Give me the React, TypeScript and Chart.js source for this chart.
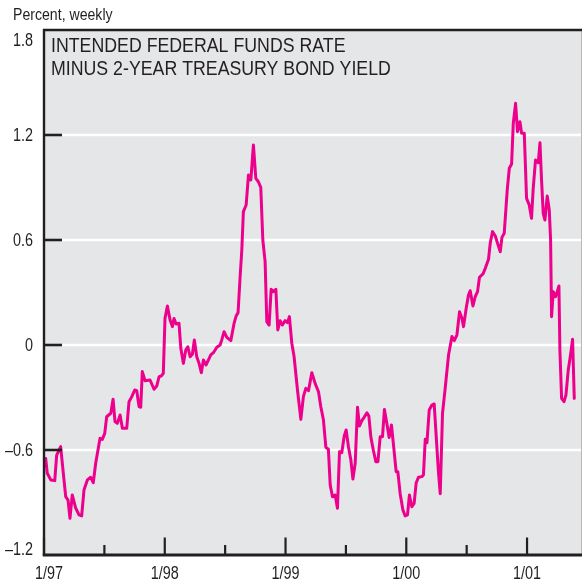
import React, { useEffect, useRef } from "react";
import { Chart, registerables } from "chart.js";

Chart.register(...registerables);

// Weekly observations: date (decimal year) and spread (percent)
const dates = [
  1997.014, 1997.027, 1997.056, 1997.089, 1997.105, 1997.138, 1997.160, 1997.180, 1997.199, 1997.215,
  1997.234, 1997.263, 1997.290, 1997.312, 1997.331, 1997.359, 1997.387, 1997.408, 1997.428, 1997.464,
  1997.483, 1997.503, 1997.519, 1997.553, 1997.572, 1997.588, 1997.607, 1997.630, 1997.649, 1997.685,
  1997.704, 1997.727, 1997.751, 1997.768, 1997.787, 1997.801, 1997.814, 1997.837, 1997.878, 1997.911,
  1997.934, 1997.953, 1997.972, 1997.988,
  1998.002, 1998.022, 1998.044, 1998.063, 1998.077, 1998.094, 1998.118, 1998.133, 1998.154, 1998.174,
  1998.191, 1998.210, 1998.229, 1998.245, 1998.265, 1998.284, 1998.303, 1998.320, 1998.342, 1998.361,
  1998.381, 1998.403, 1998.431, 1998.458, 1998.472, 1998.491, 1998.514, 1998.547, 1998.574, 1998.591,
  1998.607, 1998.624, 1998.638, 1998.651, 1998.674, 1998.693, 1998.713, 1998.734, 1998.754, 1998.775,
  1998.795, 1998.812, 1998.831, 1998.845, 1998.864, 1998.881, 1998.900, 1998.920, 1998.936, 1998.955,
  1998.974, 1998.997,
  1999.016, 1999.032, 1999.052, 1999.071, 1999.099, 1999.127, 1999.148, 1999.168, 1999.190, 1999.218,
  1999.245, 1999.273, 1999.292, 1999.314, 1999.334, 1999.355, 1999.370, 1999.389, 1999.411, 1999.430,
  1999.447, 1999.466, 1999.486, 1999.502, 1999.521, 1999.541, 1999.558, 1999.577, 1999.596, 1999.612,
  1999.632, 1999.651, 1999.674, 1999.690, 1999.707, 1999.728, 1999.748, 1999.765, 1999.784, 1999.803,
  1999.819, 1999.839, 1999.858, 1999.877, 1999.894, 1999.916, 1999.930, 1999.949, 1999.972, 1999.991,
  2000.010, 2000.026, 2000.046, 2000.065, 2000.082, 2000.101, 2000.129, 2000.142, 2000.157, 2000.171,
  2000.190, 2000.212, 2000.231, 2000.253, 2000.267, 2000.281, 2000.300, 2000.322, 2000.350, 2000.378,
  2000.397, 2000.419, 2000.441, 2000.461, 2000.474, 2000.496, 2000.515, 2000.529, 2000.552, 2000.571,
  2000.590, 2000.606, 2000.635, 2000.654, 2000.681, 2000.695, 2000.714, 2000.737, 2000.756, 2000.778,
  2000.792, 2000.811, 2000.836, 2000.853, 2000.872, 2000.886, 2000.905, 2000.921, 2000.941, 2000.955,
  2000.977, 2000.996,
  2001.018, 2001.037, 2001.051, 2001.070, 2001.093, 2001.107, 2001.120, 2001.134, 2001.148, 2001.167,
  2001.184, 2001.195, 2001.203, 2001.217, 2001.236, 2001.250, 2001.264, 2001.272, 2001.286, 2001.306,
  2001.322, 2001.341, 2001.360, 2001.377, 2001.391,
];

const spread = [
  -0.648, -0.733, -0.771, -0.775, -0.629, -0.581, -0.733, -0.867, -0.886, -0.99,
  -0.857, -0.933, -0.971, -0.977, -0.829, -0.771, -0.756, -0.787, -0.676, -0.533,
  -0.539, -0.505, -0.41, -0.39, -0.31, -0.438, -0.448, -0.4, -0.476, -0.476,
  -0.324, -0.295, -0.257, -0.261, -0.352, -0.356, -0.152, -0.204, -0.2, -0.253,
  -0.234, -0.181, -0.177, -0.162,
  0.152, 0.223, 0.143, 0.105, 0.152, 0.12, 0.124, -0.019, -0.105, -0.029,
  -0.01, -0.067, -0.051, 0.029, -0.067, -0.105, -0.158, -0.086, -0.114, -0.086,
  -0.057, -0.044, -0.013, 0, 0.029, 0.076, 0.044, 0.025, 0.124, 0.166,
  0.185, 0.39, 0.543, 0.762, 0.8, 0.971, 0.943, 1.143, 0.952, 0.933,
  0.901, 0.6, 0.476, 0.133, 0.114, 0.318, 0.305, 0.318, 0.086, 0.139,
  0.114, 0.139,
  0.128, 0.162, 0.01, -0.067, -0.257, -0.425, -0.295, -0.248, -0.261, -0.158,
  -0.219, -0.267, -0.352, -0.429, -0.585, -0.596, -0.8, -0.867, -0.857, -0.933,
  -0.61, -0.615, -0.52, -0.486, -0.581, -0.657, -0.766, -0.676, -0.356, -0.463,
  -0.432, -0.413, -0.387, -0.406, -0.528, -0.604, -0.667, -0.667, -0.524, -0.524,
  -0.368, -0.448, -0.528, -0.457, -0.571, -0.724, -0.724, -0.848, -0.943, -0.977,
  -0.971, -0.857, -0.924, -0.905, -0.787, -0.756, -0.752, -0.743, -0.539, -0.558,
  -0.371, -0.343, -0.337, -0.581, -0.733, -0.85, -0.39, -0.248, -0.057, 0.048,
  0.025, 0.057, 0.19, 0.152, 0.105, 0.21, 0.286, 0.31, 0.223, 0.276,
  0.305, 0.387, 0.406, 0.438, 0.49, 0.581, 0.648, 0.623, 0.581, 0.533,
  0.615, 0.638, 0.886, 1.01, 1.034, 1.267, 1.381, 1.219, 1.276, 1.21,
  1.21, 0.838,
  0.8, 0.724, 0.895, 1.057, 1.042, 1.156, 0.943, 0.752, 0.714, 0.851,
  0.771, 0.6, 0.162, 0.305, 0.276, 0.305, 0.337, -0.029, -0.305, -0.324,
  -0.286, -0.143, -0.057, 0.033, -0.305,
];

const yTickValues = [1.8, 1.2, 0.6, 0, -0.6, -1.2];
const yTickLabels = ["1.8", "1.2", "0.6", "0", "\u20130.6", "\u20131.2"];
const yearTicks = [1997, 1998, 1999, 2000, 2001];
const yearLabels = ["1/97", "1/98", "1/99", "1/00", "1/01"];
const halfYearTicks = [1997.5, 1998.5, 1999.5, 2000.5];
const titleLines = ["INTENDED FEDERAL FUNDS RATE", "MINUS 2-YEAR TREASURY BOND YIELD"];
const unitLabel = "Percent, weekly";

const FONT = '"Liberation Sans", Arial, Helvetica, sans-serif';
const DARK = "#231f20";

function drawText(
  ctx: CanvasRenderingContext2D,
  s: string,
  x: number,
  y: number,
  size: number,
  sx: number,
  align: "left" | "right" | "center",
  baseline: CanvasTextBaseline
) {
  ctx.save();
  ctx.font = `${size}px ${FONT}`;
  ctx.textBaseline = baseline;
  ctx.textAlign = "left";
  const w = ctx.measureText(s).width * sx;
  const left = align === "left" ? x : align === "right" ? x - w : x - w / 2;
  ctx.translate(left, y);
  ctx.scale(sx, 1);
  ctx.fillStyle = DARK;
  ctx.fillText(s, 0, 0);
  ctx.restore();
}

const decorPlugin = {
  id: "decor",
  beforeDatasetsDraw(chart: any) {
    const { ctx, chartArea } = chart;
    const { left, right, top, bottom } = chartArea;
    const ys = chart.scales.y;
    ctx.save();
    ctx.fillStyle = "#e5e6e8";
    ctx.fillRect(left, top, right - left, bottom - top);
    ctx.strokeStyle = "#ffffff";
    ctx.lineWidth = 2.5;
    yTickValues.forEach((v) => {
      if (v === ys.min || v === ys.max) return;
      const y = ys.getPixelForValue(v);
      ctx.beginPath();
      ctx.moveTo(left, y);
      ctx.lineTo(right, y);
      ctx.stroke();
    });
    ctx.restore();
  },
  afterDraw(chart: any) {
    const { ctx, chartArea } = chart;
    const { left, right, top, bottom } = chartArea;
    const xs = chart.scales.x;
    const ys = chart.scales.y;
    ctx.save();
    // right border (light)
    ctx.strokeStyle = "#b8b9bb";
    ctx.lineWidth = 1;
    ctx.beginPath();
    ctx.moveTo(right - 0.5, top);
    ctx.lineTo(right - 0.5, bottom);
    ctx.stroke();
    // dark frame: top, left, bottom
    ctx.strokeStyle = DARK;
    ctx.lineWidth = 2.4;
    ctx.beginPath();
    ctx.moveTo(left - 1, top);
    ctx.lineTo(right, top);
    ctx.moveTo(left, top - 1);
    ctx.lineTo(left, bottom + 1);
    ctx.stroke();
    ctx.lineWidth = 3;
    ctx.beginPath();
    ctx.moveTo(left - 1.2, bottom);
    ctx.lineTo(right, bottom);
    ctx.stroke();
    // y ticks (inside, from the left axis)
    ctx.lineWidth = 2.6;
    yTickValues.forEach((v) => {
      if (v === ys.min || v === ys.max) return;
      const y = ys.getPixelForValue(v);
      ctx.beginPath();
      ctx.moveTo(left, y);
      ctx.lineTo(left + 18, y);
      ctx.stroke();
    });
    // x ticks (inside, up from the bottom axis)
    ctx.lineWidth = 2.2;
    yearTicks.forEach((v) => {
      const x = xs.getPixelForValue(v);
      ctx.beginPath();
      ctx.moveTo(x, bottom);
      ctx.lineTo(x, bottom - 17.5);
      ctx.stroke();
    });
    halfYearTicks.forEach((v) => {
      const x = xs.getPixelForValue(v);
      ctx.beginPath();
      ctx.moveTo(x, bottom);
      ctx.lineTo(x, bottom - 10);
      ctx.stroke();
    });
    ctx.restore();

    // y labels
    yTickValues.forEach((v, i) => {
      const y = ys.getPixelForValue(v);
      if (v === ys.max) drawText(ctx, yTickLabels[i], 33, y + 2, 18, 0.8, "right", "top");
      else if (v === ys.min) drawText(ctx, yTickLabels[i], 33, y, 18, 0.8, "right", "alphabetic");
      else drawText(ctx, yTickLabels[i], 33, y + 1, 18, 0.8, "right", "middle");
    });
    // x labels
    yearTicks.forEach((v, i) => {
      const x = xs.getPixelForValue(v) + (i === 0 ? 5 : 0);
      drawText(ctx, yearLabels[i], x, 579, 18, 0.8, "center", "alphabetic");
    });
    // unit label
    drawText(ctx, unitLabel, 13, 20, 17, 0.83, "left", "alphabetic");
    // title
    drawText(ctx, titleLines[0], left + 7, top + 22.3, 19.5, 0.91, "left", "alphabetic");
    drawText(ctx, titleLines[1], left + 7, top + 45, 19.5, 0.91, "left", "alphabetic");
  },
};

export default function App() {
  const canvasRef = useRef<HTMLCanvasElement | null>(null);

  useEffect(() => {
    document.body.style.margin = "0";
    const canvas = canvasRef.current;
    if (!canvas) return;
    const chart = new Chart(canvas, {
      type: "line",
      data: {
        datasets: [
          {
            data: dates.map((d, i) => ({ x: d, y: spread[i] })),
            borderColor: "#ec008c",
            borderWidth: 3,
            pointRadius: 0,
            tension: 0,
            fill: false,
            borderJoinStyle: "round",
            borderCapStyle: "round",
          },
        ],
      },
      options: {
        animation: false,
        responsive: false,
        devicePixelRatio: 1,
        layout: { padding: { left: 44, top: 30, right: 1, bottom: 28 } },
        plugins: { legend: { display: false }, tooltip: { enabled: false } },
        scales: {
          x: { type: "linear", min: 1997, max: 2001.455, display: false },
          y: { type: "linear", min: -1.2, max: 1.8, display: false },
        },
      },
      plugins: [decorPlugin],
    });
    return () => chart.destroy();
  }, []);

  return (
    <canvas
      ref={canvasRef}
      width={583}
      height={583}
      style={{ display: "block", width: 583, height: 583 }}
    />
  );
}
